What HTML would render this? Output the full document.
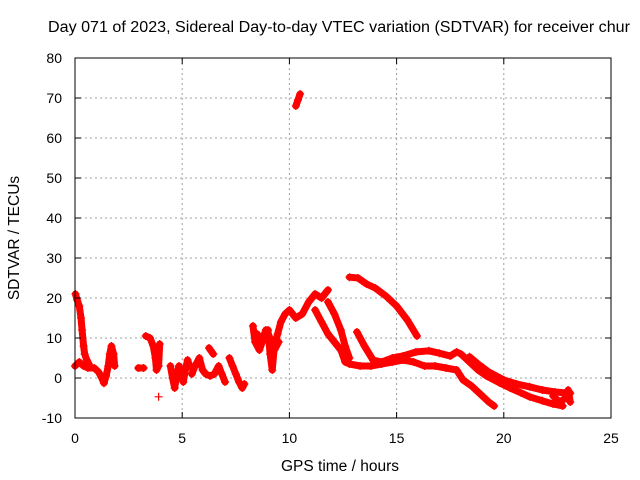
<!DOCTYPE html>
<html><head><meta charset="utf-8"><style>
body{margin:0;background:#fff;}
svg{display:block;font-family:"Liberation Sans",sans-serif;}
</style></head><body>
<svg id="c" width="640" height="480">
<rect width="640" height="480" fill="#fff"/>
<text x="48" y="32" font-size="15.5" textLength="582" lengthAdjust="spacingAndGlyphs">Day 071 of 2023, Sidereal Day-to-day VTEC variation (SDTVAR) for receiver chur</text>
<text x="340" y="471" text-anchor="middle" font-size="15.5">GPS time / hours</text>
<text transform="translate(19,238) rotate(-90)" text-anchor="middle" font-size="15.5">SDTVAR / TECUs</text>
<g id="grid"></g><g id="marks"></g><g id="axes"></g>
</svg>
<script>
const xTicks=[0,5,10,15,20,25];
const yTicks=[-10,0,10,20,30,40,50,60,70,80];
const trackStart=[[0.02,21],[0.1,19.5],[0.2,18],[0.28,15],[0.33,12],[0.4,8],[0.45,6],[0.55,4.5],[0.7,3]];
const trackEarly=[[0.0,3],[0.2,4],[0.4,3],[0.6,2.5],[0.9,2.5],[1.1,1.5],[1.25,0],[1.35,-1.3],[1.45,0.5],[1.55,3],[1.62,6],[1.7,8],[1.8,6],[1.85,3]];
const trackThree=[[2.95,2.5],[3.2,2.5]];
const trackFour=[[3.3,10.5],[3.5,10],[3.65,8],[3.75,5],[3.8,2],[3.9,3],[3.95,8.5]];
const trackOutlier=[[3.9,-4.7]];
const trackFive=[[4.45,3],[4.55,0],[4.65,-2.5],[4.75,1],[4.85,3],[4.95,1],[5.05,-1],[5.15,2],[5.25,4.5],[5.35,3]];
const trackSix=[[5.45,1],[5.6,3],[5.8,5],[5.95,2],[6.1,1],[6.3,0.5],[6.5,1],[6.7,3],[6.85,1],[7.0,-1]];
const trackSixB=[[6.25,7.5],[6.45,6]];
const trackSeven=[[7.2,5],[7.35,3],[7.5,1],[7.65,-1],[7.8,-2.5],[7.9,-1.5]];
const trackNine=[[8.3,13],[8.4,9],[8.6,7],[8.8,10],[9.0,12],[9.1,6],[9.2,2],[9.3,8],[9.45,11],[9.6,14],[9.8,16],[10.0,17],[10.3,15],[10.6,16],[10.9,19],[11.2,21],[11.5,20],[11.8,22]];
const trackNineB=[[8.5,11],[8.7,9],[8.9,12],[9.1,10],[9.3,7],[9.5,9]];
const trackDesc=[[11.2,17],[11.5,14],[11.8,11],[12.1,9],[12.4,7],[12.6,4],[12.8,3.5],[13.3,3],[13.8,3],[14.3,3.5],[14.8,4],[15.3,4.5],[15.8,4],[16.3,3],[16.8,3],[17.3,2.5],[17.8,2],[18.1,-0.5],[18.5,-2],[18.9,-4],[19.3,-6],[19.55,-7]];
const trackDescB=[[11.8,19],[12.1,16],[12.4,12],[12.6,8],[12.8,5]];
const trackTop=[[12.8,25.2],[13.2,25],[13.6,23.5],[14.0,22.5],[14.5,20.5],[15.0,18],[15.5,14.5],[15.95,10.5]];
const trackMid=[[13.15,11.5],[13.5,8],[13.9,4.5],[14.3,4],[14.8,5],[15.3,5.5],[15.9,6.5],[16.5,6.8],[17.0,6.2],[17.5,5.5],[17.8,6.5],[18.0,6],[18.4,4],[18.8,2],[19.2,0.5],[19.8,-1.2],[20.3,-2.5],[20.8,-3.7],[21.2,-4.7],[21.8,-5.7],[22.3,-6.5],[22.75,-7]];
const trackLow=[[18.4,5.3],[18.8,3.5],[19.3,1.5],[20.0,-0.5],[20.6,-1.5],[21.2,-2.2],[21.8,-3],[22.4,-3.5],[23.1,-3.8]];
const trackEnd=[[22.3,-4.5],[22.6,-6],[22.9,-5],[23.0,-3],[23.1,-6]];
const trackSpike=[[10.3,68],[10.4,69.5],[10.5,71]];
const tracks=[trackStart,trackEarly,trackThree,trackFour,trackOutlier,trackFive,trackSix,trackSixB,trackSeven,trackNine,trackNineB,trackDesc,trackDescB,trackTop,trackMid,trackLow,trackEnd,trackSpike];

const L=75,R=611,T=58,B=418,xMin=0,xMax=25,yMin=-10,yMax=80;
const sx=t=>L+(t-xMin)/(xMax-xMin)*(R-L);
const sy=v=>B-(v-yMin)/(yMax-yMin)*(B-T);
const NS='http://www.w3.org/2000/svg';
function mk(tag,attrs,parent){const e=document.createElementNS(NS,tag);for(const k in attrs)e.setAttribute(k,attrs[k]);parent.appendChild(e);return e;}
const grid=document.getElementById('grid'),marks=document.getElementById('marks'),axes=document.getElementById('axes');
xTicks.forEach(t=>{
  if(t>xMin&&t<xMax){const g=mk('line',{x1:sx(t),x2:sx(t),y1:T,y2:B,stroke:'#a0a0a0','stroke-dasharray':'2,3'},grid);
  
  }
  mk('line',{x1:sx(t),x2:sx(t),y1:B,y2:B-6,stroke:'#000'},axes);
  mk('line',{x1:sx(t),x2:sx(t),y1:T,y2:T+6,stroke:'#000'},axes);
  const lb=mk('text',{x:sx(t),y:B+25,'text-anchor':'middle','font-size':14},axes);lb.textContent=t;
  
  
});
yTicks.forEach(v=>{
  if(v>yMin&&v<yMax){const g=mk('line',{x1:L,x2:R,y1:sy(v),y2:sy(v),stroke:'#a0a0a0','stroke-dasharray':'2,3'},grid);
  
  }
  mk('line',{x1:L,x2:L+6,y1:sy(v),y2:sy(v),stroke:'#000'},axes);
  mk('line',{x1:R,x2:R-6,y1:sy(v),y2:sy(v),stroke:'#000'},axes);
  const lb=mk('text',{x:L-13,y:sy(v)+5,'text-anchor':'end','font-size':14},axes);lb.textContent=v;
  
  
});
const fr=mk('rect',{x:L,y:T,width:R-L,height:B-T,fill:'none',stroke:'#000'},axes);


tracks.forEach(tr=>{
  if(tr.length>1){const pl=mk('polyline',{points:tr.map(p=>sx(p[0])+','+sy(p[1])).join(' '),fill:'none',stroke:'#f00','stroke-width':7,'stroke-linejoin':'round','stroke-linecap':'round'},marks);
  
  }
  tr.forEach(p=>{const x=sx(p[0]),y=sy(p[1]);
    const m=mk('path',{d:`M${x-4},${y}H${x+4}M${x},${y-4}V${y+4}`,stroke:'#f00','stroke-width':1.2},marks);
    
    
  });
});
</script>
</body></html>
